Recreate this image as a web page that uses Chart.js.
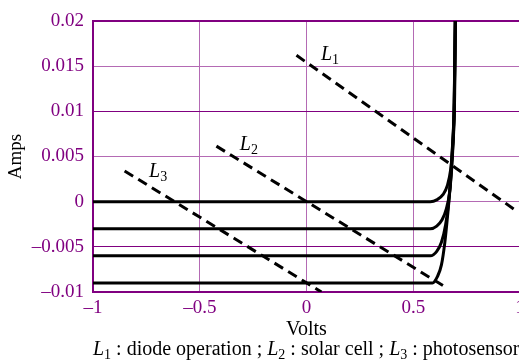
<!DOCTYPE html>
<html lang="en">
<head>
  <meta charset="UTF-8" />
  <title>Diode I-V</title>
  <script src="https://cdn.jsdelivr.net/npm/chart.js"></script>
  <style>
    html, body { margin: 0; padding: 0; background: #fff; overflow: hidden; }
    #wrap { width: 530px; height: 364px; }
  </style>
</head>
<body>
  <div id="wrap"><canvas id="ivChart" width="530" height="364"></canvas></div>

<script>
  // diode curves, one per light level (volts, amps)
  const curve0 = [[-1, 0], [0.58, 0], [0.61, 0.0002], [0.64, 0.0008], [0.66, 0.0018], [0.675, 0.0035], [0.685, 0.006], [0.692, 0.01], [0.697, 0.02]];
  const curve1 = [[-1, -0.003], [0.58, -0.003], [0.61, -0.0027], [0.635, -0.002], [0.655, -0.0008], [0.67, 0.001], [0.681, 0.004], [0.689, 0.008], [0.694, 0.012], [0.697, 0.02]];
  const curve2 = [[-1, -0.006], [0.58, -0.006], [0.61, -0.0055], [0.632, -0.0045], [0.652, -0.0025], [0.666, 0], [0.677, 0.003], [0.686, 0.007], [0.692, 0.011], [0.697, 0.02]];
  const curve3 = [[-1, -0.009], [0.59, -0.009], [0.613, -0.0083], [0.632, -0.007], [0.648, -0.0045], [0.661, -0.0015], [0.672, 0.0015], [0.682, 0.0055], [0.691, 0.01], [0.697, 0.02]];

  // load lines
  const lineL1 = [[-0.047, 0.0162], [0.976, -0.0009]];
  const lineL2 = [[-0.422, 0.00615], [0.64, -0.0093]];
  const lineL3 = [[-0.852, 0.0034], [0.07, -0.0100]];

  const lineNames = ['1', '2', '3'];
  const labelPos = [[0.105, 0.0164], [-0.275, 0.0064], [-0.70, 0.0034]];

  const xTicks = [-1, -0.5, 0, 0.5, 1];
  const xTickLabels = ['\u20131', '\u20130.5', '0', '0.5', '1'];
  const yTicks = [-0.01, -0.005, 0, 0.005, 0.01, 0.015, 0.02];
  const yTickLabels = ['\u20130.01', '\u20130.005', '0', '0.005', '0.01', '0.015', '0.02'];

  const PURPLE = '#800080';
  const LIGHT = '#b46ab4';
  const SERIF = "'Liberation Serif', 'DejaVu Serif', serif";

  const pts = arr => arr.map(p => ({ x: p[0], y: p[1] }));

  const solid = data => ({
    data: pts(data), borderColor: '#000', borderWidth: 3, pointRadius: 0,
    showLine: true, cubicInterpolationMode: 'monotone', fill: false
  });
  const dashed = data => ({
    data: pts(data), borderColor: '#000', borderWidth: 3, pointRadius: 0,
    showLine: true, borderDash: [10, 6], fill: false
  });

  // italic L with subscript + plain text pieces
  function drawRuns(ctx, x, y, runs) {
    runs.forEach(r => {
      if (r.it) {
        ctx.font = 'italic 20px ' + SERIF;
        ctx.fillText(r.t, x, y);
      } else if (r.sub) {
        ctx.font = '14px ' + SERIF;
        ctx.fillText(r.t, x, y + 4);
      } else {
        ctx.font = '20px ' + SERIF;
        ctx.fillText(r.t, x, y);
      }
      x += ctx.measureText(r.t).width;
    });
  }

  const textPlugin = {
    id: 'texts',
    afterDraw(chart) {
      const ctx = chart.ctx;
      const xs = chart.scales.x, ys = chart.scales.y;
      ctx.save();
      ctx.fillStyle = '#000';
      ctx.textBaseline = 'alphabetic';
      ctx.textAlign = 'left';
      labelPos.forEach((p, i) => {
        const px = xs.getPixelForValue(p[0]) - 8;
        const py = ys.getPixelForValue(p[1]) + 6;
        drawRuns(ctx, px, py, [{ t: 'L', it: true }, { t: lineNames[i], sub: true }]);
      });
      ctx.font = '20px ' + SERIF;
      ctx.textAlign = 'center';
      ctx.fillText('Volts', xs.getPixelForValue(0), 335);
      ctx.textAlign = 'left';
      drawRuns(ctx, 93, 355, [
        { t: 'L', it: true }, { t: '1', sub: true }, { t: ' : diode operation ; ' },
        { t: 'L', it: true }, { t: '2', sub: true }, { t: ' : solar cell ; ' },
        { t: 'L', it: true }, { t: '3', sub: true }, { t: ' : photosensor' }
      ]);
      ctx.restore();
    }
  };

  new Chart(document.getElementById('ivChart'), {
    type: 'scatter',
    data: {
      datasets: [
        solid(curve0), solid(curve1), solid(curve2), solid(curve3),
        dashed(lineL1), dashed(lineL2), dashed(lineL3)
      ]
    },
    options: {
      responsive: false,
      animation: false,
      layout: { padding: { top: 21, right: 10, left: 0, bottom: 0 } },
      plugins: { legend: { display: false }, tooltip: { enabled: false } },
      scales: {
        x: {
          type: 'linear', min: -1, max: 1,
          afterBuildTicks: s => { s.ticks = xTicks.map(v => ({ value: v })); },
          afterFit: s => { s.height = 72; },
          ticks: {
            color: PURPLE, padding: 5, maxRotation: 0,
            font: { family: SERIF, size: 19 },
            callback: (v, i) => xTickLabels[i]
          },
          grid: { color: LIGHT, lineWidth: 1, drawTicks: false },
          border: { color: PURPLE, width: 2 }
        },
        y: {
          type: 'linear', min: -0.01, max: 0.02,
          afterBuildTicks: s => { s.ticks = yTicks.map(v => ({ value: v })); },
          afterFit: s => { s.width = 93; },
          ticks: {
            color: PURPLE, padding: 9,
            font: { family: SERIF, size: 19 },
            callback: (v, i) => yTickLabels[i]
          },
          grid: {
            drawTicks: false,
            color: ctx => (ctx.index === 1 || ctx.index === 4 || ctx.index === 6) ? PURPLE : LIGHT,
            lineWidth: ctx => ctx.index === 6 ? 2 : 1
          },
          border: { color: PURPLE, width: 2 },
          title: {
            display: true, text: 'Amps', color: '#000',
            font: { family: SERIF, size: 19 }, padding: { top: 5, bottom: 0 }
          }
        }
      }
    },
    plugins: [textPlugin]
  });
</script>
</body>
</html>
